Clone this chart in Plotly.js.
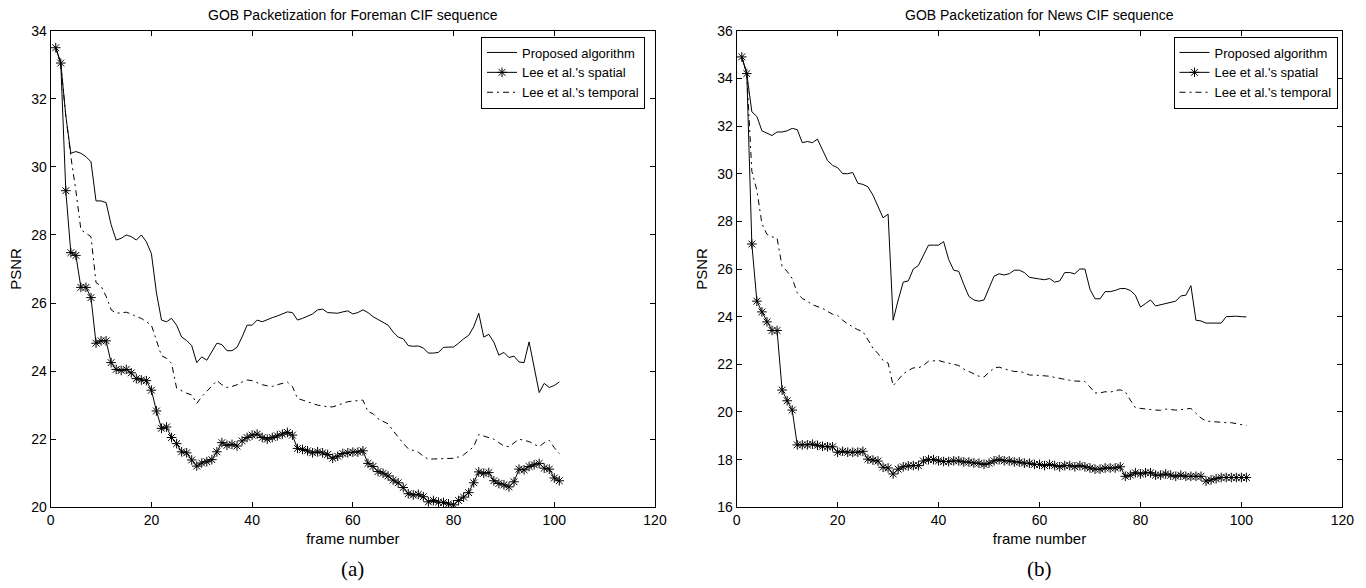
<!DOCTYPE html>
<html>
<head>
<meta charset="utf-8">
<script src="https://cdn.plot.ly/plotly-3.0.1.min.js"></script>
<style>html,body{margin:0;padding:0;background:#fff;}#chart{width:1366px;height:588px;}</style>
</head>
<body>
<div id="chart"></div>
<script>
// frame numbers (x values)
const frames = [1,2,3,4,5,6,7,8,9,10,11,12,13,14,15,16,17,18,19,20,21,22,23,24,25,26,27,28,29,30,31,32,33,34,35,36,37,38,39,40,41,42,43,44,45,46,47,48,49,50,51,52,53,54,55,56,57,58,59,60,61,62,63,64,65,66,67,68,69,70,71,72,73,74,75,76,77,78,79,80,81,82,83,84,85,86,87,88,89,90,91,92,93,94,95,96,97,98,99,100,101];

const seriesNames = ["Proposed algorithm", "Lee et al.'s spatial", "Lee et al.'s temporal"];
const panelTitles = ["GOB Packetization for Foreman CIF sequence", "GOB Packetization for News CIF sequence"];
const panelLabels = ["(a)", "(b)"];
const xTitle = "frame number";
const yTitle = "PSNR";

// (a) Foreman
const foremanProposed = [33.5,33.05,31.5,30.4,30.45,30.4,30.3,30.15,29.0,29.0,28.95,28.3,27.85,27.9,28.0,27.95,27.85,28.0,27.8,27.45,26.3,25.5,25.45,25.55,25.35,25.0,24.9,24.75,24.25,24.42,24.32,24.55,24.82,24.78,24.6,24.6,24.7,25.0,25.35,25.35,25.5,25.45,25.52,25.57,25.62,25.68,25.74,25.72,25.5,25.55,25.62,25.68,25.8,25.82,25.72,25.7,25.7,25.74,25.77,25.68,25.72,25.8,25.72,25.6,25.52,25.44,25.35,25.15,25.0,24.95,24.75,24.73,24.74,24.68,24.53,24.53,24.55,24.7,24.7,24.71,24.82,24.95,25.05,25.3,25.7,25.0,25.08,24.85,24.47,24.55,24.4,24.44,24.27,24.25,24.86,24.1,23.37,23.64,23.52,23.58,23.68];
const foremanSpatial = [33.5,33.05,29.3,27.48,27.4,26.46,26.46,26.16,24.82,24.89,24.89,24.25,24.05,24.02,24.05,23.95,23.78,23.74,23.72,23.44,22.83,22.32,22.36,22.05,21.87,21.63,21.6,21.39,21.21,21.3,21.34,21.4,21.63,21.9,21.82,21.85,21.8,21.95,22.05,22.12,22.15,22.05,22.0,22.05,22.1,22.15,22.2,22.12,21.73,21.7,21.66,21.6,21.63,21.6,21.55,21.44,21.5,21.58,21.6,21.62,21.62,21.66,21.29,21.2,21.05,21.0,20.92,20.8,20.72,20.58,20.4,20.36,20.38,20.31,20.16,20.2,20.15,20.14,20.1,20.07,20.2,20.3,20.43,20.72,21.04,21.0,21.02,20.78,20.7,20.66,20.6,20.75,21.12,21.1,21.2,21.25,21.29,21.15,21.12,20.86,20.78];
const foremanTemporal = [33.5,33.0,31.5,30.3,29.3,28.15,28.05,27.95,26.6,26.5,26.2,25.8,25.7,25.72,25.73,25.68,25.6,25.55,25.45,25.35,24.9,24.45,24.38,24.23,23.5,23.42,23.35,23.3,23.05,23.25,23.4,23.55,23.72,23.6,23.52,23.55,23.6,23.68,23.74,23.72,23.66,23.6,23.57,23.55,23.6,23.65,23.68,23.55,23.2,23.15,23.1,23.05,23.0,22.98,22.95,22.95,23.0,23.06,23.1,23.12,23.14,23.15,22.81,22.75,22.6,22.52,22.45,22.25,22.05,21.88,21.72,21.66,21.62,21.5,21.41,21.42,21.43,21.44,21.45,21.44,21.48,21.54,21.66,21.78,22.14,22.1,22.05,22.0,21.9,21.8,21.78,21.9,22.0,21.97,21.93,21.85,21.78,21.9,21.97,21.75,21.58];

// (b) News
const newsProposed = [34.9,34.2,32.6,32.4,31.8,31.7,31.6,31.75,31.75,31.8,31.9,31.85,31.3,31.35,31.3,31.45,31.0,30.55,30.35,30.25,30.0,30.0,30.05,29.6,29.55,29.45,29.1,28.65,28.15,28.3,23.85,24.7,25.45,25.5,26.0,26.15,26.6,27.0,27.0,27.0,27.15,26.4,25.95,25.9,25.35,24.85,24.7,24.65,24.7,25.2,25.7,25.8,25.75,25.8,25.95,25.95,25.85,25.65,25.6,25.58,25.55,25.6,25.45,25.5,25.85,25.85,25.8,26.0,26.0,25.15,24.75,24.75,25.05,25.05,25.1,25.18,25.18,25.1,24.9,24.4,24.55,24.7,24.45,24.5,24.55,24.6,24.65,24.87,24.9,25.3,23.85,23.82,23.73,23.73,23.73,23.73,24.0,24.02,24.02,24.0,23.99];
const newsSpatial = [34.9,34.2,27.05,24.65,24.2,23.78,23.42,23.42,20.92,20.47,20.08,18.62,18.62,18.62,18.65,18.6,18.56,18.54,18.54,18.31,18.35,18.31,18.31,18.31,18.35,18.02,17.98,17.94,17.68,17.65,17.4,17.6,17.7,17.74,17.75,17.75,17.94,18.0,18.0,17.95,17.92,17.92,17.95,17.95,17.9,17.9,17.86,17.85,17.8,17.85,17.95,18.0,17.95,17.95,17.9,17.9,17.85,17.85,17.8,17.8,17.75,17.8,17.75,17.7,17.75,17.75,17.7,17.75,17.7,17.65,17.6,17.6,17.65,17.65,17.65,17.7,17.3,17.35,17.45,17.4,17.45,17.45,17.35,17.35,17.4,17.35,17.3,17.35,17.3,17.3,17.3,17.3,17.1,17.15,17.2,17.25,17.25,17.25,17.25,17.25,17.25];
const newsTemporal = [34.9,34.2,30.1,29.3,27.9,27.45,27.35,27.3,26.1,25.9,25.6,25.0,24.76,24.65,24.5,24.42,24.35,24.22,24.1,24.05,23.85,23.7,23.56,23.45,23.38,23.0,22.68,22.45,22.16,22.05,21.1,21.35,21.6,21.74,21.85,21.85,21.95,22.13,22.15,22.16,22.1,22.05,22.0,21.95,21.8,21.7,21.6,21.5,21.47,21.65,21.85,21.88,21.8,21.75,21.7,21.7,21.65,21.55,21.55,21.54,21.54,21.5,21.45,21.4,21.35,21.33,21.3,21.28,21.28,21.05,20.8,20.8,20.85,20.83,20.9,20.93,20.85,20.5,20.18,20.15,20.12,20.1,20.08,20.07,20.12,20.1,20.08,20.1,20.12,20.15,19.95,19.75,19.62,19.6,19.58,19.55,19.55,19.55,19.52,19.48,19.43];

const black = '#000';
function makeTraces(prop, spat, temp, xa, ya, leg) {
  return [
    {x: frames, y: prop, xaxis: xa, yaxis: ya, legend: leg, name: seriesNames[0], type: 'scatter', mode: 'lines',
     line: {color: black, width: 1}},
    {x: frames, y: spat, xaxis: xa, yaxis: ya, legend: leg, name: seriesNames[1], type: 'scatter', mode: 'lines+markers',
     line: {color: black, width: 1}, marker: {symbol: 'asterisk-open', size: 8, color: black, line: {color: black, width: 1}}},
    {x: frames, y: temp, xaxis: xa, yaxis: ya, legend: leg, name: seriesNames[2], type: 'scatter', mode: 'lines',
     line: {color: black, width: 1, dash: '6px,4px,2px,4px'}}
  ];
}

const traces = [].concat(
  makeTraces(foremanProposed, foremanSpatial, foremanTemporal, 'x', 'y', 'legend'),
  makeTraces(newsProposed, newsSpatial, newsTemporal, 'x2', 'y2', 'legend2')
);

const W = 1366, H = 588;
const yDom = [(H - 507.3) / H, (H - 30.7) / H];
const fontFam = 'Arial, "Liberation Sans", Helvetica, sans-serif';

function xAxis(domain, anchor) {
  return {domain: domain, anchor: anchor, range: [0, 120], tickvals: [0,20,40,60,80,100,120],
    ticks: 'inside', ticklen: 5, tickcolor: black, showline: true, linecolor: black, linewidth: 1, mirror: 'ticks',
    showgrid: false, zeroline: false, tickfont: {size: 14, color: black, family: fontFam},
    title: {text: xTitle, font: {size: 15, color: black, family: fontFam}, standoff: 6}, automargin: false};
}
function yAxis(domain, anchor, range, tv) {
  return {domain: domain, anchor: anchor, range: range, tickvals: tv,
    ticks: 'inside', ticklen: 5, tickcolor: black, showline: true, linecolor: black, linewidth: 1, mirror: 'ticks',
    showgrid: false, zeroline: false, tickfont: {size: 14, color: black, family: fontFam},
    title: {text: yTitle, font: {size: 15, color: black, family: fontFam}, standoff: 6}, automargin: false};
}

const xDomL = [50.7 / W, 655 / W];
const xDomR = [736.7 / W, 1342.3 / W];

const legendBase = {bgcolor: '#fff', bordercolor: black, borderwidth: 1, font: {size: 13, color: black, family: fontFam},
  yanchor: 'top', y: (H - 36.5) / H, xanchor: 'right', tracegroupgap: 0, itemwidth: 30};

const layout = {
  width: W, height: H, margin: {l: 0, r: 0, t: 0, b: 0}, paper_bgcolor: '#fff', plot_bgcolor: '#fff',
  font: {family: fontFam, color: black},
  showlegend: true,
  xaxis: xAxis(xDomL, 'y'),
  yaxis: yAxis(yDom, 'x', [20, 34], [20,22,24,26,28,30,32,34]),
  xaxis2: xAxis(xDomR, 'y2'),
  yaxis2: yAxis(yDom, 'x2', [16, 36], [16,18,20,22,24,26,28,30,32,34,36]),
  legend: Object.assign({}, legendBase, {x: 645 / W}),
  legend2: Object.assign({}, legendBase, {x: 1337.5 / W}),
  annotations: [
    {text: panelTitles[0], xref: 'paper', yref: 'paper', x: (xDomL[0] + xDomL[1]) / 2, y: (H - 14.5) / H,
     xanchor: 'center', yanchor: 'middle', showarrow: false, font: {size: 14, color: black, family: fontFam}},
    {text: panelTitles[1], xref: 'paper', yref: 'paper', x: (xDomR[0] + xDomR[1]) / 2, y: (H - 14.5) / H,
     xanchor: 'center', yanchor: 'middle', showarrow: false, font: {size: 14, color: black, family: fontFam}},
    {text: panelLabels[0], xref: 'paper', yref: 'paper', x: (xDomL[0] + xDomL[1]) / 2, y: (H - 569) / H,
     xanchor: 'center', yanchor: 'middle', showarrow: false, font: {size: 21, color: black, family: '"Liberation Serif", "Times New Roman", serif'}},
    {text: panelLabels[1], xref: 'paper', yref: 'paper', x: (xDomR[0] + xDomR[1]) / 2, y: (H - 569) / H,
     xanchor: 'center', yanchor: 'middle', showarrow: false, font: {size: 21, color: black, family: '"Liberation Serif", "Times New Roman", serif'}}
  ]
};

Plotly.newPlot('chart', traces, layout, {staticPlot: true, displayModeBar: false});
</script>
</body>
</html>
